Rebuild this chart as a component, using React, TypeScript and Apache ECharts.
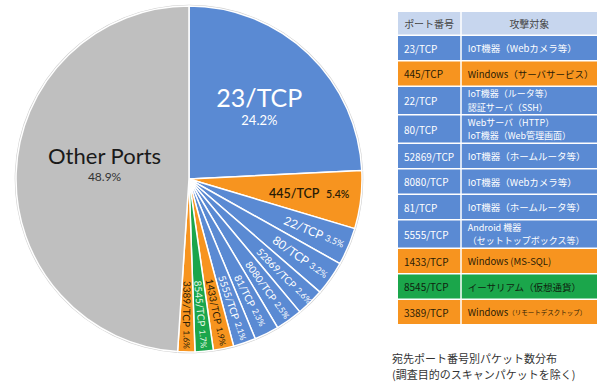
import React, { useEffect, useRef } from "react";
import * as echarts from "echarts";

// ---------- data ----------
const portNames = [
  "23/TCP", "445/TCP", "22/TCP", "80/TCP", "52869/TCP", "8080/TCP",
  "81/TCP", "5555/TCP", "1433/TCP", "8545/TCP", "3389/TCP", "Other Ports",
];
const sharePercent = [24.2, 5.4, 3.5, 3.2, 2.6, 2.5, 2.3, 2.1, 1.9, 1.7, 1.6, 48.9];
const portGroup = [
  "device", "windows", "device", "device", "device", "device",
  "device", "device", "windows", "crypto", "windows", "other",
];
const tableHeader = ["ポート番号", "攻撃対象"];
const attackTargets = [
  "IoT機器（Webカメラ等）",
  "Windows（サーバサービス）",
  "IoT機器（ルータ等）\n認証サーバ（SSH）",
  "Webサーバ（HTTP）\nIoT機器（Web管理画面）",
  "IoT機器（ホームルータ等）",
  "IoT機器（Webカメラ等）",
  "IoT機器（ホームルータ等）",
  "Android 機器\n（セットトップボックス等）",
  "Windows (MS-SQL)",
  "イーサリアム（仮想通貨）",
  "Windows（リモートデスクトップ）",
];
const captionLines = ["宛先ポート番号別パケット数分布", "(調査目的のスキャンパケットを除く)"];

// ---------- styles ----------
const GROUP_COLOR: Record<string, string> = {
  device: "#5A8AD3",
  windows: "#F7941F",
  crypto: "#1BA64B",
  other: "#BFBFBF",
};
const LABEL_COLOR: Record<string, string> = {
  device: "#ffffff",
  windows: "#2a1c06",
  crypto: "#e4f8e6",
  other: "#1a1a1a",
};
const TABLE_TEXT: Record<string, string> = {
  device: "#ffffff",
  windows: "#2a1c06",
  crypto: "#0f230f",
};
const LATIN = "Lato, 'Noto Sans', sans-serif";
const CJK = "'Noto Sans CJK JP', sans-serif";
const CENTER = [189, 179];
const R = 173;
const compactNoteRows = ["3389/TCP"];

const TABLE = { left: 398, split: 461, right: 597, top: 12, headerH: 24, rowH: 25.5, rowH2: 28.5, gap: 1.5 };

const pct = (v: number) => v.toFixed(1) + "%";

function buildOption() {
  const total = sharePercent.reduce((a, b) => a + b, 0);
  let acc = 0;
  const midDeg = sharePercent.map((v) => {
    const m = ((acc + v / 2) / total) * 360;
    acc += v;
    return m;
  });

  const kindOf = (i: number) =>
    portNames[i] === "Other Ports" ? "other" : sharePercent[i] >= 20 ? "big" : sharePercent[i] >= 5 ? "mid" : "small";

  const labelFor = (i: number): any => {
    const g = portGroup[i];
    const col = LABEL_COLOR[g];
    const k = kindOf(i);
    if (k === "big") {
      return {
        formatter: `{n|${portNames[i]}}\n{p|${pct(sharePercent[i])}}`,
        rich: {
          n: { fontSize: 25, color: col, fontFamily: LATIN, lineHeight: 30 },
          p: { fontSize: 13, color: col, fontFamily: LATIN, lineHeight: 16 },
        },
      };
    }
    if (k === "other") {
      return {
        formatter: `{n|${portNames[i]}}\n{p|${pct(sharePercent[i])}}`,
        rich: {
          n: { fontSize: 22, color: col, fontFamily: LATIN, lineHeight: 27 },
          p: { fontSize: 12, color: "#333", fontFamily: LATIN, lineHeight: 15 },
        },
      };
    }
    if (k === "mid") {
      return {
        formatter: `{n|${portNames[i]}}  {p|${pct(sharePercent[i])}}`,
        rich: {
          n: { fontSize: 12.5, color: col, fontFamily: LATIN, fontWeight: 600 },
          p: { fontSize: 10.5, color: col, fontFamily: LATIN, fontWeight: 600 },
        },
      };
    }
    const big = sharePercent[i] >= 3;
    return {
      rotate: 90 - midDeg[i],
      formatter: `{n|${portNames[i]}} {p|${pct(sharePercent[i])}}`,
      rich: {
        n: { fontSize: big ? 12 : 10, color: col, fontFamily: LATIN },
        p: { fontSize: big ? 9 : 8.5, color: col, fontFamily: LATIN },
      },
    };
  };

  const labelSeries = (radius: number[], kinds: string[], extra: any = {}) => ({
    type: "pie",
    center: CENTER,
    radius,
    startAngle: 90,
    clockwise: true,
    silent: true,
    avoidLabelOverlap: false,
    labelLayout: { hideOverlap: false },
    z: 3,
    itemStyle: { color: "rgba(0,0,0,0)", borderWidth: 0 },
    labelLine: { show: false },
    emphasis: { disabled: true },
    ...extra,
    data: portNames.map((name, i) => ({
      name,
      value: sharePercent[i],
      label: kinds.includes(kindOf(i))
        ? { show: true, position: "inside", overflow: "none", ...labelFor(i) }
        : { show: false },
    })),
  });

  const series: any[] = [
    // faint outline around the pie
    {
      type: "pie",
      center: CENTER,
      radius: [0, R + 1.3],
      startAngle: 90,
      clockwise: true,
      silent: true,
      z: 1,
      emphasis: { disabled: true },
      itemStyle: { color: "#cfcfcf", borderWidth: 0 },
      label: { show: false },
      labelLine: { show: false },
      data: portNames.map((name, i) => ({ name, value: sharePercent[i] })),
    },
    {
      type: "pie",
      center: CENTER,
      radius: [0, R],
      startAngle: 90,
      clockwise: true,
      silent: true,
      z: 2,
      avoidLabelOverlap: false,
      emphasis: { disabled: true },
      itemStyle: { borderColor: "#ffffff", borderWidth: 1.5 },
      labelLine: { show: false },
      labelLayout: { dx: 5, dy: -13, hideOverlap: false },
      data: portNames.map((name, i) => ({
        name,
        value: sharePercent[i],
        itemStyle: { color: GROUP_COLOR[portGroup[i]] },
        label:
          kindOf(i) === "other"
            ? { show: true, position: "inside", overflow: "none", ...labelFor(i) }
            : { show: false },
      })),
    },
    labelSeries([0, 198], ["big"]),
    labelSeries([70, 166], ["mid"]),
    labelSeries([96, 170], ["small"]),
  ];

  // ---------- table ----------
  const els: any[] = [];
  const { left, split, right, top, headerH, gap } = TABLE;
  const c1w = split - left - gap / 2;
  const c2x = split + gap / 2;
  const c2w = right - c2x;
  els.push(
    { type: "rect", shape: { x: left, y: top, width: c1w, height: headerH - gap }, style: { fill: "#C7D6EE" } },
    { type: "rect", shape: { x: c2x, y: top, width: c2w, height: headerH - gap }, style: { fill: "#C7D6EE" } },
    {
      type: "text", x: left + c1w / 2, y: top + (headerH - gap) / 2,
      style: { text: tableHeader[0], fill: "#444", fontSize: 10, fontFamily: CJK, align: "center", verticalAlign: "middle" },
    },
    {
      type: "text", x: c2x + c2w / 2, y: top + (headerH - gap) / 2,
      style: { text: tableHeader[1], fill: "#444", fontSize: 10, fontFamily: CJK, align: "center", verticalAlign: "middle" },
    }
  );
  let y = top + headerH;
  attackTargets.forEach((target, i) => {
    const lines = target.split("\n");
    const h = lines.length > 1 ? TABLE.rowH2 : TABLE.rowH;
    const g = portGroup[i];
    const fill = GROUP_COLOR[g];
    const tc = TABLE_TEXT[g];
    const cy = y + (h - gap) / 2;
    els.push(
      { type: "rect", shape: { x: left, y, width: c1w, height: h - gap }, style: { fill } },
      { type: "rect", shape: { x: c2x, y, width: c2w, height: h - gap }, style: { fill } },
      {
        type: "text", x: left + 6, y: cy,
        style: { text: portNames[i], fill: tc, fontSize: 10, fontFamily: CJK, align: "left", verticalAlign: "middle" },
      }
    );
    const compact = compactNoteRows.includes(portNames[i]);
    const lineGap = 13.2;
    const fs = lines.length > 1 ? 9 : 9.5;
    lines.forEach((ln, j) => {
      const txt = compact ? ln.replace(/（.*）$/, (m) => `{s|${m}}`) : ln;
      const ly = cy + (j - (lines.length - 1) / 2) * lineGap;
      els.push({
        type: "text", x: c2x + 6, y: ly,
        style: {
          text: txt, fill: tc, fontSize: fs, fontFamily: CJK,
          align: "left", verticalAlign: "middle",
          rich: { s: { fontSize: 6.5, fill: tc, fontFamily: CJK } },
        },
      });
    });
    y += h;
  });

  captionLines.forEach((line, i) => {
    els.push({
      type: "text", x: 392, y: 358 + i * 16,
      style: { text: line, fill: "#333", fontSize: 11, fontFamily: CJK, align: "left", verticalAlign: "middle" },
    });
  });

  return {
    animation: false,
    backgroundColor: "#ffffff",
    series,
    graphic: { elements: els },
  };
}

export default function App() {
  const ref = useRef<HTMLDivElement>(null);
  useEffect(() => {
    if (!ref.current) return;
    const chart = echarts.init(ref.current, undefined, { renderer: "svg" });
    chart.setOption(buildOption() as any);
    return () => chart.dispose();
  }, []);
  return (
    <div
      ref={ref}
      style={{ position: "absolute", left: 0, top: 0, width: 610, height: 389 }}
    />
  );
}
